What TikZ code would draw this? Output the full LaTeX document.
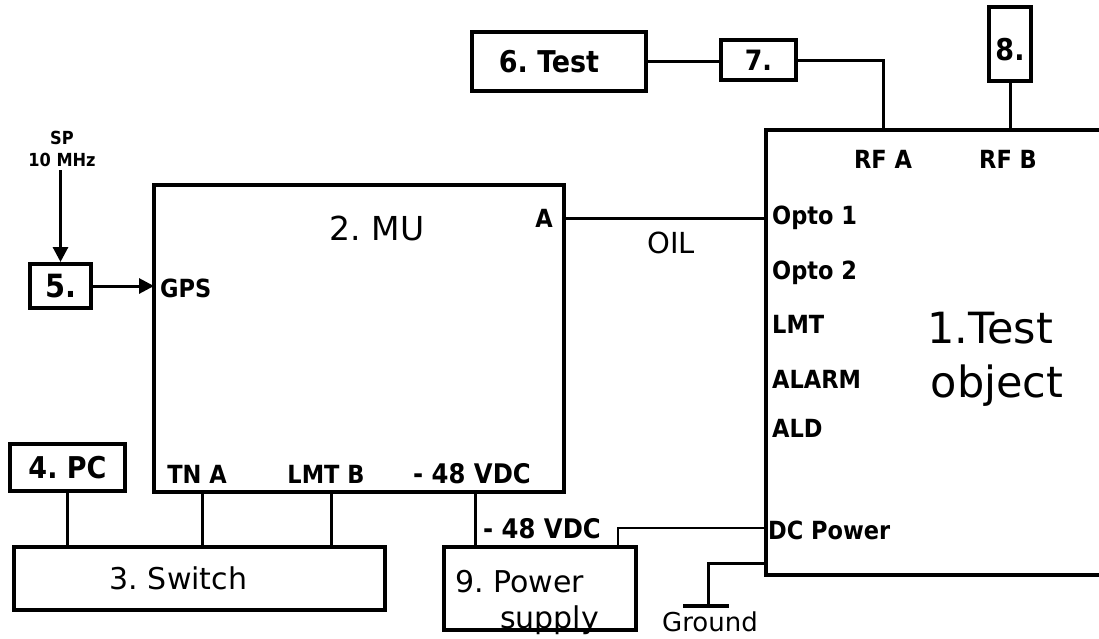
\documentclass[tikz,border=0pt]{standalone}
\usepackage{fontspec}
\setmainfont{DejaVu Sans}
\newfontfamily\cond{DejaVu Sans Condensed}
\usetikzlibrary{arrows.meta}
\begin{document}
\frenchspacing
\begin{tikzpicture}[x=1pt,y=-1pt,
  box/.style={draw,line width=4pt,inner sep=0pt,anchor=center},
  lbl/.style={inner sep=0pt,font=\cond\bfseries\fontsize{25}{30}\selectfont},
  lblw/.style={lbl,anchor=west},
  reg/.style={inner sep=0pt,font=\fontsize{30}{36}\selectfont},
  conn/.style={line width=3pt},
  arr/.style={conn,-{Triangle[length=15pt,width=15pt]}},
  ]
\useasboundingbox (0,0) rectangle (1099,638);
\clip (0,0) rectangle (1099,638);

% boxes
\node[box,minimum width=410pt,minimum height=307pt] (mu) at (359,338.5) {};
\node[box,minimum width=374pt,minimum height=445pt] (test) at (953,352.5) {};
\node[box,minimum width=174pt,minimum height=59pt,font=\cond\bfseries\fontsize{30}{36}\selectfont] (box6) at (559,61.5) {6. Test\hspace*{20pt}};
\node[box,minimum width=75pt,minimum height=40pt,font=\cond\bfseries\fontsize{28}{34}\selectfont] (box7) at (758.5,60) {7.};
\node[box,minimum width=42pt,minimum height=74pt] (box8) at (1010,44) {};
\node[inner sep=0pt,font=\cond\bfseries\fontsize{30}{36}\selectfont] (t8) at (1010,50) {8.};
\node[box,minimum width=61pt,minimum height=44pt,font=\cond\bfseries\fontsize{32}{38}\selectfont] (box5) at (60.5,286) {5.};
\node[box,minimum width=115pt,minimum height=47pt,font=\cond\bfseries\fontsize{30}{36}\selectfont] (box4) at (67.5,467.5) {4. PC};
\node[box,minimum width=371pt,minimum height=63pt,font=\fontsize{30}{36}\selectfont] (switch) at (199.5,578.5) {3. Switch\hspace*{42pt}};
\node[box,minimum width=192pt,minimum height=83pt] (ps) at (540,588.5) {};
\node[reg,anchor=west,align=left] (pst) at (455,602) {9. Power\\\hspace*{45pt}supply};

% coordinates
\coordinate (xa) at (883,0);
\coordinate (yoil) at (0,218);
\coordinate (sp) at (60.5,170);
\coordinate (xtna) at (202,0);
\coordinate (xlmt) at (331,0);
\coordinate (xv) at (475,0);
\coordinate (xdc) at (618,0);
\coordinate (ydc) at (0,528);
\coordinate (ygnd) at (0,563);
\coordinate (gb) at (708,606);
\coordinate (gl) at (683,606);
\coordinate (gr) at (729,606);

% connectors
\draw[conn] (box6.east) -- (box6.east -| box7.west);
\draw[conn] (box7.east) -| (test.north -| xa);
\draw[conn] (box8.south) -- (box8.south |- test.north);
\draw[conn] (mu.east |- yoil) -- (test.west |- yoil);
\draw[arr] (sp) -- (box5.north);
\draw[arr,shorten >=-2pt] (box5.east) -- (box5.east -| mu.west);
\draw[conn] (box4.south) -- (box4.south |- switch.north);
\draw[conn] (mu.south -| xtna) -- (switch.north -| xtna);
\draw[conn] (mu.south -| xlmt) -- (switch.north -| xlmt);
\draw[conn] (mu.south -| xv) -- (ps.north -| xv);
\draw[line width=2.5pt] (ps.north -| xdc) |- (test.west |- ydc);
\draw[conn] (test.west |- ygnd) -| (gb);
\draw[line width=3.5pt] (gl) -- (gr);

% labels
\node[lbl,font=\cond\bfseries\fontsize{18}{22}\selectfont] (sptxt) at (62,138) {SP};
\node[lbl,font=\cond\bfseries\fontsize{18}{22}\selectfont] (mhz) at (62,160) {10 MHz};
\node[inner sep=0pt,font=\fontsize{33}{40}\selectfont] (mut) at (377,228) {2. MU};
\node[lbl] (aa) at (544,218) {A};
\node[lblw] (gps) at (160,288) {GPS};
\node[lbl] (tna) at (197,474) {TN A};
\node[lbl] (lmtb) at (326,474) {LMT B};
\node[lbl,font=\cond\bfseries\fontsize{27}{32}\selectfont] (vdc1) at (472,474) {- 48 VDC};
\node[lbl,font=\cond\bfseries\fontsize{27}{32}\selectfont] (vdc2) at (542,529) {- 48 VDC};
\node[inner sep=0pt,font=\fontsize{29}{34}\selectfont] (oil) at (671,243) {OIL};
\node[lbl] (rfa) at (883,159) {RF A};
\node[lbl] (rfb) at (1008,159) {RF B};
\node[lblw] (o1) at (772,218) {Opto 1};
\node[lblw] (o2) at (772,273) {Opto 2};
\node[lblw] (lmt) at (772,324) {LMT};
\node[lblw] (alarm) at (772,379) {ALARM};
\node[lblw] (ald) at (772,428) {ALD};
\node[lblw] (dcp) at (768,530) {DC Power};
\node[inner sep=0pt,font=\fontsize{43}{52}\selectfont] (to1) at (990,328) {1.Test};
\node[inner sep=0pt,font=\fontsize{43}{52}\selectfont] (to2) at (997,386) {object};
\node[inner sep=0pt,font=\fontsize{26}{30}\selectfont] (gnd) at (710,622) {Ground};
\end{tikzpicture}
\end{document}
